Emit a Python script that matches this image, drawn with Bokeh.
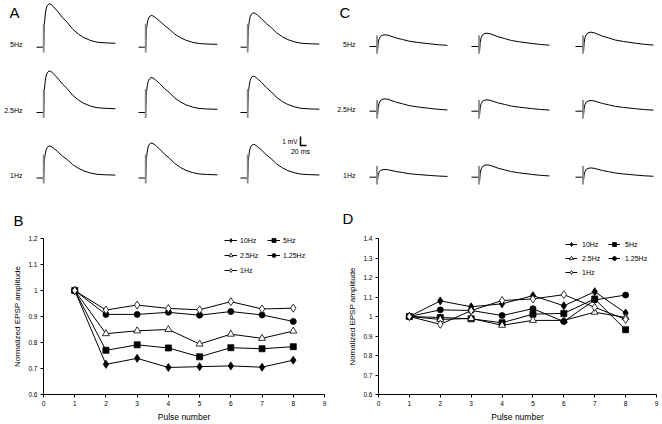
from bokeh.plotting import figure
from bokeh.layouts import column, row
from bokeh.models import Legend, LegendItem, FixedTicker
from bokeh.embed import file_html
from bokeh.resources import INLINE
from bokeh.core.properties import value

FONT = "Liberation Sans"

# ---------------- data: panels B and D ----------------
pulse = [1, 2, 3, 4, 5, 6, 7, 8]
series_names = ["10Hz", "5Hz", "2.5Hz", "1.25Hz", "1Hz"]

b_10hz = [1.0, 0.716, 0.739, 0.704, 0.707, 0.710, 0.705, 0.732]
b_5hz = [1.0, 0.770, 0.791, 0.779, 0.745, 0.780, 0.776, 0.784]
b_2_5hz = [1.0, 0.834, 0.845, 0.850, 0.794, 0.832, 0.816, 0.844]
b_1_25hz = [1.0, 0.908, 0.908, 0.916, 0.905, 0.919, 0.906, 0.881]
b_1hz = [1.0, 0.925, 0.944, 0.931, 0.926, 0.957, 0.929, 0.932]

d_10hz = [1.0, 1.080, 1.050, 1.065, 1.107, 1.055, 1.127, 1.018]
d_5hz = [1.0, 0.995, 0.988, 0.968, 1.012, 1.016, 1.090, 0.932]
d_2_5hz = [1.0, 0.985, 0.990, 0.955, 0.980, 0.980, 1.022, 0.995]
d_1_25hz = [1.0, 1.034, 1.031, 1.005, 1.040, 0.974, 1.085, 1.110]
d_1hz = [1.0, 0.960, 1.030, 1.082, 1.090, 1.112, 1.047, 0.985]

x_ticks = [0, 1, 2, 3, 4, 5, 6, 7, 8, 9]
x_tick_labels = ["0", "1", "2", "3", "4", "5", "6", "7", "8", "9"]
b_y_ticks = [0.6, 0.7, 0.8, 0.9, 1.0, 1.1, 1.2]
b_y_tick_labels = ["0.6", "0.7", "0.8", "0.9", "1", "1.1", "1.2"]
d_y_ticks = [0.6, 0.7, 0.8, 0.9, 1.0, 1.1, 1.2, 1.3, 1.4]
d_y_tick_labels = ["0.6", "0.7", "0.8", "0.9", "1", "1.1", "1.2", "1.3", "1.4"]

# ---------------- data: EPSP traces (panels A and C) ----------------
row_labels = ["5Hz", "2.5Hz", "1Hz"]
# time (ms) and shape (fraction of peak)
trace_t_a = [0, 23, 24, 26, 29, 32, 36, 42, 48, 57, 70, 87, 102, 120, 140, 158, 180, 202, 230, 263]
trace_shape_a = [0, 0, 0, 0.52, 0.74, 0.88, 0.96, 1.0, 0.99, 0.93, 0.83, 0.68, 0.576, 0.42, 0.30, 0.22, 0.155, 0.115, 0.10, 0.09]
trace_t_c = [0, 24, 25, 27, 29, 32, 37, 45, 52, 62, 75, 90, 110, 133, 160, 200, 230, 260]
trace_shape_c = [0, 0, 0, -0.3, 0.3, 0.65, 0.88, 0.98, 1.0, 0.96, 0.85, 0.72, 0.60, 0.45, 0.35, 0.23, 0.15, 0.10]
# peak amplitudes (mV), rows 5Hz / 2.5Hz / 1Hz, three example sweeps
peaks_a = [[4.82, 3.52, 3.82], [4.62, 3.89, 4.03], [3.56, 3.89, 3.74]]
peaks_c = [[1.30, 1.48, 1.59], [1.37, 1.26, 1.19], [0.86, 1.37, 1.03]]
# stimulus artifact (mV above / below baseline)
artifact_a = [2.6, -0.6]
artifact_c = [1.25, -0.8]
scale_mv = 1
scale_ms = 20

# ---------------- top figure: traces + panel letters ----------------
W = 662
TOP_H = 228
PX_MS = 0.3   # px per ms
PX_MV = 9.0   # px per mV


def X(px):
    return px / PX_MS


def Y(py):
    return -py / PX_MV


top = figure(width=W, height=TOP_H, x_range=(0, W / PX_MS), y_range=(-TOP_H / PX_MV, 0),
             output_backend="svg", toolbar_location=None, min_border=0,
             x_axis_location=None, y_axis_location=None)
top.grid.visible = False
top.outline_line_color = None

panels = [
    (trace_t_a, trace_shape_a, peaks_a, [36, 138, 240], [46.7, 112, 177.5], artifact_a, 24),
    (trace_t_c, trace_shape_c, peaks_c, [369, 471, 575], [46, 110.7, 176.7], artifact_c, 25),
]
for t, shape, peaks, col_x, row_y, art, art_t in panels:
    for r in range(3):
        for c in range(3):
            x0 = X(col_x[c])
            y0 = Y(row_y[r])
            xs = [x0 + ti for ti in t]
            ys = [y0 + peaks[r][c] * s for s in shape]
            top.line(xs, ys, line_color="black", line_width=1)
            top.segment(x0=[x0 + art_t], y0=[y0 + art[1]], x1=[x0 + art_t], y1=[y0 + art[0]],
                        line_color="#8a8a8a", line_width=1.8)

# scale bar
sb_x = X(300)
sb_y = Y(145)
top.line([sb_x, sb_x, sb_x + scale_ms], [sb_y + scale_mv, sb_y, sb_y], line_color="black", line_width=1.5)
top.text(x=[X(297)], y=[Y(141)], text=["1 mV"], text_font=value(FONT), text_font_size="6.5px",
         text_align="right", text_baseline="middle", text_color="black")
top.text(x=[X(300)], y=[Y(151)], text=["20 ms"], text_font=value(FONT), text_font_size="7px",
         text_align="center", text_baseline="middle", text_color="black")

# row labels
top.text(x=[X(22)] * 3, y=[Y(44), Y(110), Y(175)], text=row_labels, text_font=value(FONT),
         text_font_size="7px", text_align="right", text_baseline="middle", text_color="black")
top.text(x=[X(355)] * 3, y=[Y(44), Y(109), Y(175)], text=row_labels, text_font=value(FONT),
         text_font_size="7px", text_align="right", text_baseline="middle", text_color="black")
# panel letters
top.text(x=[X(9), X(339), X(13), X(342)], y=[Y(12), Y(12), Y(220), Y(218)],
         text=["A", "C", "B", "D"], text_font=value(FONT),
         text_font_size="15px", text_align="left", text_baseline="middle", text_color="black")

# ---------------- bottom figures ----------------
BOT_H = 424 - TOP_H
HALF = 331


def make_panel(series, ylo, yhi, yticks, ylabels, ylabel, left, right, top_b, bottom_b,
               legend_loc, leg_spacing, glyph_w, standoff):
    p = figure(width=HALF, height=BOT_H, x_range=(0, 9), y_range=(ylo, yhi),
               output_backend="svg", toolbar_location=None,
               min_border_left=left, min_border_right=right,
               min_border_top=top_b, min_border_bottom=bottom_b)
    p.grid.visible = False
    p.outline_line_color = None
    p.background_fill_color = "white"
    p.xaxis.ticker = FixedTicker(ticks=x_ticks)
    p.xaxis.major_label_overrides = dict(zip(x_ticks, x_tick_labels))
    p.yaxis.ticker = FixedTicker(ticks=yticks)
    p.yaxis.major_label_overrides = dict(zip(yticks, ylabels))
    for ax in (p.xaxis[0], p.yaxis[0]):
        ax.axis_line_color = "black"
        ax.axis_line_width = 1
        ax.major_tick_line_color = "black"
        ax.major_tick_out = 3
        ax.major_tick_in = 0
        ax.minor_tick_out = 0
        ax.minor_tick_in = 0
        ax.major_label_text_font = FONT
        ax.major_label_text_font_size = "6.5px"
        ax.major_label_text_color = "black"
        ax.major_label_standoff = 3
        ax.axis_label_text_font = FONT
        ax.axis_label_text_font_style = "normal"
        ax.axis_label_text_color = "black"
        ax.axis_label_standoff = 3
    p.xaxis.axis_label = "Pulse number"
    p.xaxis.axis_label_text_font_size = "8.5px"
    p.yaxis.axis_label = ylabel
    p.yaxis.axis_label_text_font_size = "8px"

    styles = [
        dict(marker="diamond", size=8, fill_color="black"),
        dict(marker="square", size=6, fill_color="black"),
        dict(marker="triangle", size=7, fill_color="white"),
        dict(marker="circle", size=6, fill_color="black"),
        dict(marker="diamond", size=8, fill_color="white"),
    ]
    items = []
    for name, ys, st in zip(series_names, series, styles):
        lr = p.line(pulse, ys, line_color="black", line_width=1)
        sr = p.scatter(pulse, ys, marker=st["marker"], size=st["size"], fill_color=st["fill_color"],
                       line_color="black", line_width=0.8)
        items.append(LegendItem(label=name, renderers=[lr, sr]))
    leg = Legend(items=items, orientation="horizontal", ncols=2, location=legend_loc,
                 padding=0, margin=0, spacing=leg_spacing, border_line_color=None,
                 background_fill_alpha=0, label_text_font=FONT, label_text_font_size="7px",
                 label_text_color="black", label_standoff=standoff, glyph_width=glyph_w,
                 glyph_height=10, label_height=10, label_width=22)
    p.add_layout(leg)
    return p


# B: frame x 43..324, y 234..394 (page px)
pB = make_panel([b_10hz, b_5hz, b_2_5hz, b_1_25hz, b_1hz], 0.6, 1.2, b_y_ticks, b_y_tick_labels,
                "Normalized EPSP amplitude", 43, 7, 234 - TOP_H, 30,
                (181, 119), 5, 13, 3)
# D: frame x 378..656, y 238..394 (page px)
pD = make_panel([d_10hz, d_5hz, d_2_5hz, d_1_25hz, d_1hz], 0.6, 1.4, d_y_ticks, d_y_tick_labels,
                "Nomalized EPSP amplitude", 47, 6, 238 - TOP_H, 30,
                (187, 117), 4, 12, 5)

layout = column(top, row(pB, pD, spacing=0), spacing=0)
open("out.html", "w").write(file_html(layout, INLINE))
